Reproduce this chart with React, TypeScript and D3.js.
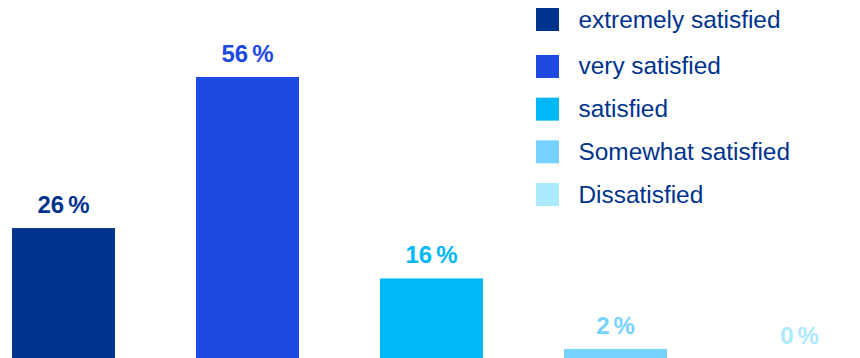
import React from "react";
import * as d3 from "d3";

const categories: string[] = [
  "extremely satisfied",
  "very satisfied",
  "satisfied",
  "Somewhat satisfied",
  "Dissatisfied",
];
const values: number[] = [26, 56, 16, 2, 0];
const colors: string[] = ["#00338D", "#1E49E2", "#00B8F5", "#76D2FF", "#ACEAFF"];

const W = 860;
const H = 358;

export default function App() {
  const x = d3
    .scaleBand<string>()
    .domain(categories)
    .range([12, 851])
    .paddingInner(0.4402)
    .paddingOuter(0);
  const y = d3.scaleLinear().domain([0, 56]).range([359, 77]);

  const legendY = d3
    .scalePoint<string>()
    .domain(categories)
    .range([23.8, 194.5]);

  return (
    <svg
      width={W}
      height={H}
      style={{ position: "absolute", left: 0, top: 0, background: "#fff" }}
      fontFamily="'Liberation Sans', Arial, sans-serif"
    >
      {categories.map((c, i) => {
        const bx = x(c)!;
        const top = y(values[i]);
        return (
          <g key={c}>
            <rect x={bx} y={top} width={x.bandwidth()} height={y(0) - top} fill={colors[i]} />
            <text
              x={bx + x.bandwidth() / 2}
              y={top - 15}
              textAnchor="middle"
              fontWeight="bold"
              fontSize={24}
              fill={colors[i]}
            >
              {values[i]}
              <tspan dx={4}>%</tspan>
            </text>
          </g>
        );
      })}
      {categories.map((c, i) => {
        const cy = legendY(c)! - (i === 0 ? 4.3 : 0);
        return (
          <g key={"lg" + c}>
            <rect x={536} y={cy - 11.5} width={23} height={23} fill={colors[i]} />
            <text x={578.5} y={cy + 8} fontSize={24.4} fill="#00338D">
              {c}
            </text>
          </g>
        );
      })}
    </svg>
  );
}
